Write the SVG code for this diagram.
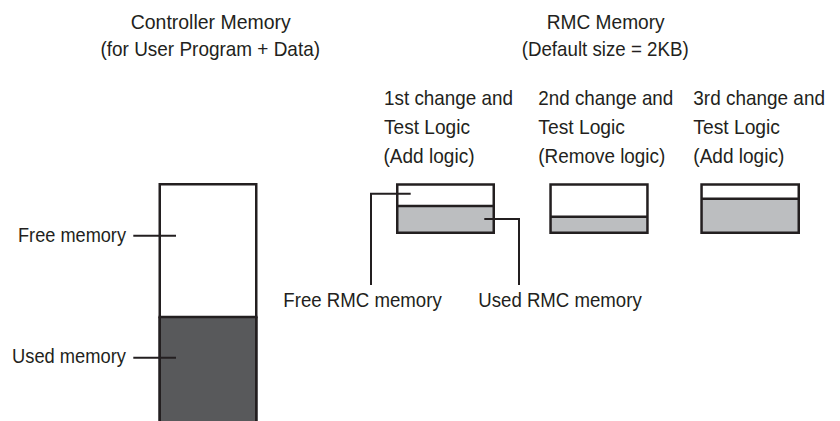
<svg xmlns="http://www.w3.org/2000/svg" width="840" height="421" viewBox="0 0 840 421">
<style>
text{font-family:"Liberation Sans",Arial,sans-serif;font-size:21px;fill:#231f20}
.box{stroke:#231f20;stroke-width:2.5;fill:none}
.div{stroke:#231f20;stroke-width:2.5}
.lead{stroke:#231f20;stroke-width:2;fill:none}
</style>
<rect width="840" height="421" fill="#ffffff"/>
<g id="controller-header">
<text x="130.7" y="29" textLength="160" lengthAdjust="spacingAndGlyphs">Controller Memory</text>
<text x="100.5" y="55.5" textLength="219.5" lengthAdjust="spacingAndGlyphs">(for User Program + Data)</text>
</g>
<g id="rmc-header">
<text x="546.7" y="29" textLength="118" lengthAdjust="spacingAndGlyphs">RMC Memory</text>
<text x="521.7" y="55.5" textLength="167" lengthAdjust="spacingAndGlyphs">(Default size = 2KB)</text>
</g>
<g id="controller-memory">
<rect class="box" x="159.75" y="184.25" width="96.5" height="260" fill="#ffffff"/>
<rect x="159.75" y="317" width="96.5" height="120" fill="#58595b"/>
<line class="div" x1="158.5" y1="317" x2="257.5" y2="317"/>
<line class="div" x1="159.75" y1="317" x2="159.75" y2="421"/>
<line class="div" x1="256.25" y1="317" x2="256.25" y2="421"/>
</g>
<g id="label-free-memory">
<text x="18" y="241.5" textLength="108" lengthAdjust="spacingAndGlyphs">Free memory</text>
</g>
<g id="label-used-memory">
<text x="12" y="362.7" textLength="114" lengthAdjust="spacingAndGlyphs">Used memory</text>
</g>
<g id="rmc-1">
<text x="384" y="105" textLength="129" lengthAdjust="spacingAndGlyphs">1st change and</text>
<text x="384" y="134" textLength="86" lengthAdjust="spacingAndGlyphs">Test Logic</text>
<text x="383.5" y="162.5" textLength="91" lengthAdjust="spacingAndGlyphs">(Add logic)</text>
<rect x="397.25" y="206" width="96.5" height="26.75" fill="#bcbec0"/>
<rect class="box" x="397.25" y="184.5" width="96.5" height="48.25"/>
<line class="div" x1="397.25" y1="206" x2="493.75" y2="206"/>
</g>
<g id="rmc-2">
<text x="538.3" y="105" textLength="135" lengthAdjust="spacingAndGlyphs">2nd change and</text>
<text x="538.3" y="134" textLength="86.7" lengthAdjust="spacingAndGlyphs">Test Logic</text>
<text x="538.3" y="162.5" textLength="127" lengthAdjust="spacingAndGlyphs">(Remove logic)</text>
<rect x="550.55" y="216.7" width="96.9" height="16" fill="#bcbec0"/>
<rect class="box" x="550.55" y="184.5" width="96.9" height="48.25"/>
<line class="div" x1="550.55" y1="216.7" x2="647.45" y2="216.7"/>
</g>
<g id="rmc-3">
<text x="693.3" y="105" textLength="131.7" lengthAdjust="spacingAndGlyphs">3rd change and</text>
<text x="693.3" y="134" textLength="86.7" lengthAdjust="spacingAndGlyphs">Test Logic</text>
<text x="693.3" y="162.5" textLength="91" lengthAdjust="spacingAndGlyphs">(Add logic)</text>
<rect x="701.55" y="198.7" width="97.2" height="34" fill="#bcbec0"/>
<rect class="box" x="701.55" y="184.5" width="97.2" height="48.25"/>
<line class="div" x1="701.55" y1="198.7" x2="798.75" y2="198.7"/>
</g>
<g id="label-free-rmc">
<text x="283.3" y="307.3" textLength="158.4" lengthAdjust="spacingAndGlyphs">Free RMC memory</text>
</g>
<g id="label-used-rmc">
<text x="478.3" y="307.3" textLength="163.4" lengthAdjust="spacingAndGlyphs">Used RMC memory</text>
</g>
<g id="connectors">
<line class="lead" x1="133.3" y1="235.7" x2="176" y2="235.7"/>
<line class="lead" x1="133.3" y1="357.7" x2="176" y2="357.7"/>
<polyline class="lead" points="410.7,193.7 371,193.7 371,285"/>
<polyline class="lead" points="484.3,219 519,219 519,285"/>
</g>
</svg>
